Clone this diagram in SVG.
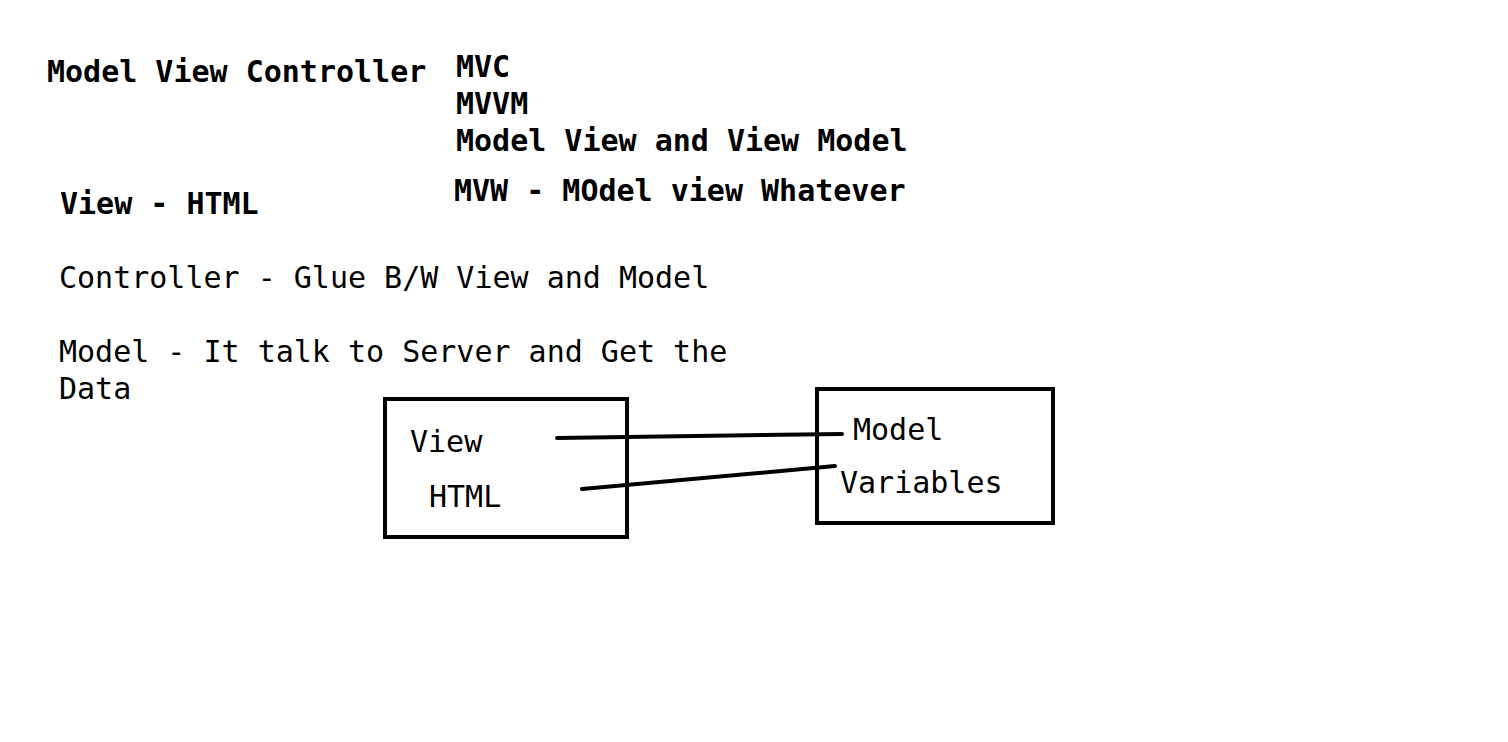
<svg xmlns="http://www.w3.org/2000/svg" width="1508" height="742" viewBox="0 0 1508 742">
<style>
.t{font-family:"DejaVu Sans Mono","Liberation Mono",monospace;font-size:30px;font-weight:bold;fill:#000}
.r{font-weight:normal}
.box{fill:none;stroke:#000;stroke-width:4}
.c{stroke:#000;stroke-width:4;stroke-linecap:round;fill:none}
</style>
<rect width="1508" height="742" fill="#fff"/>
<g id="notes">
<text class="t" x="47" y="82">Model View Controller</text>
<text class="t" x="456" y="77">MVC</text>
<text class="t" x="456" y="114">MVVM</text>
<text class="t" x="456" y="151">Model View and View Model</text>
<text class="t" x="454" y="201">MVW - MOdel view Whatever</text>
<text class="t" x="60" y="214">View - HTML</text>
<text class="t r" x="59" y="288">Controller - Glue B/W View and Model</text>
<text class="t r" x="59" y="362">Model - It talk to Server and Get the</text>
<text class="t r" x="59" y="399">Data</text>
</g>
<g id="view-box">
<rect class="box" x="385" y="399" width="242" height="138"/>
<text class="t r" x="410" y="452">View</text>
<text class="t r" x="429" y="507">HTML</text>
</g>
<g id="model-box">
<rect class="box" x="817" y="389" width="236" height="134"/>
<text class="t r" x="853" y="440">Model</text>
<text class="t r" x="840" y="493">Variables</text>
</g>
<g id="connectors">
<line class="c" x1="557" y1="438" x2="842" y2="434"/>
<line class="c" x1="582" y1="489" x2="835" y2="466"/>
</g>
</svg>
